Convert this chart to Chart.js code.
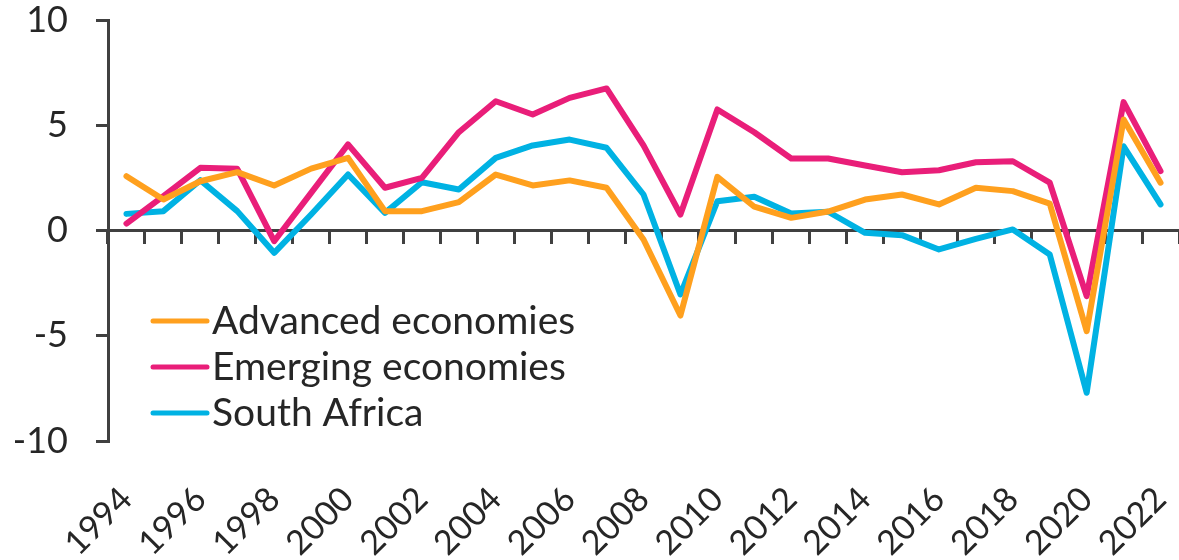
<!DOCTYPE html>
<html>
<head>
<meta charset="utf-8">
<script src="https://cdn.jsdelivr.net/npm/chart.js@4/dist/chart.umd.min.js"></script>
<style>
    html, body { margin: 0; padding: 0; background: #fff; }
    #wrap { width: 1179px; height: 560px; position: relative; }
</style>
</head>
<body>
<div id="wrap"><canvas id="chart"></canvas></div>
<script>
const years = ['1994', '1995', '1996', '1997', '1998', '1999', '2000', '2001', '2002', '2003',
    '2004', '2005', '2006', '2007', '2008', '2009', '2010', '2011', '2012', '2013',
    '2014', '2015', '2016', '2017', '2018', '2019', '2020', '2021', '2022'];

const advanced = [2.58, 1.47, 2.34, 2.77, 2.14, 2.94, 3.45, 0.92, 0.92, 1.35,
    2.66, 2.14, 2.38, 2.03, -0.43, -4.04, 2.55, 1.13, 0.6, 0.9,
    1.47, 1.71, 1.24, 2.03, 1.87, 1.28, -4.78, 5.27, 2.27];

const emerging = [0.33, 1.63, 2.98, 2.93, -0.51, 1.79, 4.09, 2.03, 2.5, 4.67,
    6.14, 5.51, 6.3, 6.75, 4.04, 0.76, 5.75, 4.67, 3.42, 3.42,
    3.09, 2.77, 2.86, 3.24, 3.29, 2.27, -3.12, 6.1, 2.82];

const southAfrica = [0.79, 0.92, 2.39, 0.92, -1.06, 0.76, 2.66, 0.84, 2.29, 1.95,
    3.45, 4.04, 4.32, 3.93, 1.71, -3.04, 1.39, 1.6, 0.81, 0.89,
    -0.11, -0.22, -0.9, -0.4, 0.05, -1.14, -7.71, 4.0, 1.24];

const seriesNames = ['Advanced economies', 'Emerging economies', 'South Africa'];
const seriesColors = ['#ffa01e', '#e91e79', '#00b2e3'];

const AXIS = '#404040';
const TEXT = '#262626';
const FONT = 'Lato';

// legend sits inside the plot, lower left
const insideLegend = {
    id: 'insideLegend',
    afterDraw(chart) {
        const { ctx, chartArea } = chart;
        const x0 = chartArea.left + 45;
        const y0 = chartArea.top + 301;
        ctx.save();
        ctx.font = `39px ${FONT}`;
        ctx.textBaseline = 'middle';
        ctx.lineCap = 'round';
        chart.data.datasets.forEach((ds, i) => {
            const y = y0 + i * 46;
            ctx.strokeStyle = ds.borderColor;
            ctx.lineWidth = 5;
            ctx.beginPath();
            ctx.moveTo(x0, y);
            ctx.lineTo(x0 + 54, y);
            ctx.stroke();
            ctx.fillStyle = TEXT;
            ctx.fillText(ds.label, x0 + 59, y);
        });
        ctx.restore();
    }
};

const series = [advanced, emerging, southAfrica];

new Chart(document.getElementById('chart'), {
    type: 'line',
    data: {
        labels: years,
        datasets: series.map((vals, i) => ({
            label: seriesNames[i],
            data: vals,
            borderColor: seriesColors[i],
            backgroundColor: seriesColors[i],
            borderWidth: 6,
            pointRadius: 0,
            tension: 0,
            borderJoinStyle: 'round',
            borderCapStyle: 'round'
        }))
    },
    options: {
        responsive: true,
        maintainAspectRatio: false,
        animation: false,
        layout: { padding: { top: 20, right: -4, left: 0, bottom: 0 } },
        plugins: { legend: { display: false }, tooltip: { enabled: false } },
        scales: {
            x: {
                type: 'category',
                offset: true,
                position: 'bottom',
                grid: { display: false },
                border: { display: false },
                afterFit(scale) {
                    scale.height = 119;
                    scale.paddingLeft = 0;
                    scale.paddingRight = 0;
                },
                ticks: {
                    autoSkip: false,
                    maxRotation: 45,
                    minRotation: 45,
                    padding: 30,
                    color: TEXT,
                    font: { family: FONT, size: 34 },
                    callback(val, idx) { return idx % 2 === 0 ? this.getLabelForValue(val) : ''; }
                }
            },
            x2: {
                type: 'category',
                offset: true,
                position: { y: 0 },
                afterFit(scale) {
                    scale.paddingLeft = 0;
                    scale.paddingRight = 0;
                    scale.paddingTop = 0;
                    scale.paddingBottom = 0;
                },
                grid: { offset: true, drawOnChartArea: false, drawTicks: true, tickLength: 12, lineWidth: 3, color: AXIS },
                border: { display: true, color: AXIS, width: 3 },
                ticks: { display: false }
            },
            y: {
                min: -10,
                max: 10,
                afterFit(scale) {
                    scale.width = 108;
                    scale.paddingTop = 0;
                    scale.paddingBottom = 0;
                },
                grid: { drawOnChartArea: false, drawTicks: true, tickLength: 12, lineWidth: 3, color: AXIS },
                border: { display: true, color: AXIS, width: 3 },
                ticks: {
                    stepSize: 5,
                    padding: 28,
                    color: TEXT,
                    font: { family: FONT, size: 36, lineHeight: 1.1 }
                }
            }
        }
    },
    plugins: [insideLegend]
});
</script>
</body>
</html>
